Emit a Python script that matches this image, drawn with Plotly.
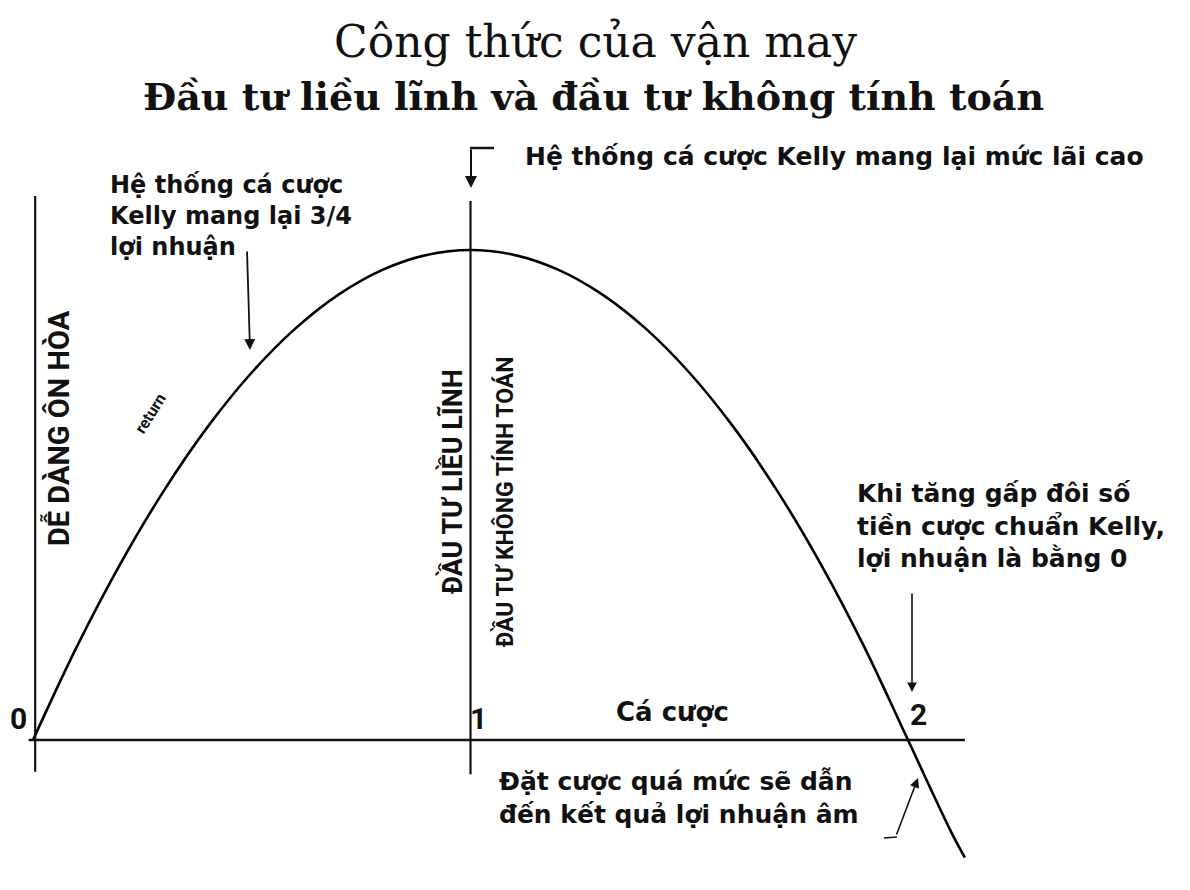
import plotly.graph_objects as go

# Kelly curve: bet size (multiples of the Kelly bet) vs. growth of capital
bet_size = [0.0, 0.1, 0.2, 0.3, 0.4, 0.5, 0.6, 0.7, 0.8, 0.9, 1.0,
            1.1, 1.2, 1.3, 1.4, 1.5, 1.6, 1.7, 1.8, 1.9, 2.0, 2.1, 2.13]
growth = [0.0, 0.19, 0.36, 0.51, 0.64, 0.75, 0.84, 0.91, 0.96, 0.99, 1.0,
          0.99, 0.96, 0.91, 0.84, 0.75, 0.64, 0.51, 0.36, 0.19, 0.0, -0.19, -0.24]

tick_values = [0, 1, 2]
tick_labels = ["0", "1", "2"]

# page has an 8px body margin, so the figure is drawn 8px in from the corner
OFF = 8
W, H = 1174, 874
X0, XS = 33 - OFF, 437.5      # figure pixel of bet 0, pixels per unit
Y0, YS = 740 - OFF, 490       # figure pixel of growth 0, pixels per unit


def px(x):
    return (x - OFF) / W


def py(y):
    return 1 - (y - OFF) / H


fig = go.Figure()
fig.add_trace(go.Scatter(
    x=bet_size, y=growth, mode="lines",
    line=dict(color="black", width=2.6, shape="spline"),
    hoverinfo="skip", showlegend=False,
))

ink = "#111111"
sans = "DejaVu Sans"
cond = "Roboto"


def note(x, y, text, size, xanchor="center", angle=0, family=sans, align="center"):
    return dict(x=px(x), y=py(y), xref="paper", yref="paper", showarrow=False,
                xanchor=xanchor, yanchor="middle", align=align, textangle=angle,
                text=text, font=dict(family=family, size=size, color=ink))


def arrow(x, y, ax, ay, width=1.8):
    return dict(x=px(x), y=py(y), xref="paper", yref="paper", ax=ax, ay=ay,
                text="", showarrow=True, arrowhead=2, arrowsize=1.2,
                arrowwidth=width, arrowcolor=ink)


shapes = [
    # horizontal axis
    dict(type="line", xref="x", yref="y", x0=-0.01, x1=2.13, y0=0, y1=0,
         line=dict(color=ink, width=2.6)),
    # left vertical axis
    dict(type="line", xref="x", yref="y", x0=0.005, x1=0.005, y0=-0.065, y1=1.11,
         line=dict(color=ink, width=2.2)),
    # Kelly line at 1
    dict(type="line", xref="x", yref="y", x0=1, x1=1, y0=-0.07, y1=1.1,
         line=dict(color=ink, width=2.2)),
    # top bracket stub
    dict(type="line", xref="paper", yref="paper", x0=px(470), x1=px(494),
         y0=py(148), y1=py(148), line=dict(color=ink, width=2.5)),
    # hook of the overbetting arrow
    dict(type="line", xref="paper", yref="paper", x0=px(884), x1=px(897),
         y0=py(838), y1=py(837), line=dict(color=ink, width=1.6)),
]

ann = [
    note(595, 42, "Công thức của vận may", 44, family="DejaVu Serif"),
    note(593, 97, "<b>Đầu tư liều lĩnh và đầu tư không tính toán</b>", 38,
         family="DejaVu Serif"),

    note(523, 156, "<b>Hệ thống cá cược Kelly mang lại mức lãi cao</b>", 25, "left"),
    arrow(471, 188, 0, -40, 2),

    note(108, 216, "<b>Hệ thống cá cược<br>Kelly mang lại 3/4<br>lợi nhuận</b>", 24,
         "left", align="left"),
    arrow(250, 350, -3, -100),

    note(57, 428, "<b>DỄ DÀNG ÔN HÒA</b>", 29, angle=-90, family=cond),
    note(452, 482, "<b>ĐẦU TƯ LIỀU LĨNH</b>", 27, angle=-90, family=cond),
    note(505, 502, "<b>ĐẦU TƯ KHÔNG TÍNH TOÁN</b>", 23, angle=-90, family=cond),
    note(150, 413, "<b>return</b>", 16, angle=-58, family=cond),

    note(672, 712, "<b>Cá cược</b>", 26),

    note(855, 526, "<b>Khi tăng gấp đôi số<br>tiền cược chuẩn Kelly,<br>lợi nhuận là bằng 0</b>",
         25, "left", align="left"),
    arrow(912, 692, 0, -100, 1.6),

    note(497, 798, "<b>Đặt cược quá mức sẽ dẫn<br>đến kết quả lợi nhuận âm</b>", 25,
         "left", align="left"),
    arrow(918, 778, -22, 58, 1.6),
]

# tick numbers along the bet axis
tick_pos = [(18, 718), (478, 718), (918, 714)]
for lab, (tx, ty) in zip(tick_labels, tick_pos):
    ann.append(note(tx, ty, "<b>" + lab + "</b>", 30, family=cond))

fig.update_layout(
    width=W, height=H,
    margin=dict(l=0, r=0, t=0, b=0),
    paper_bgcolor="white", plot_bgcolor="white",
    xaxis=dict(range=[-X0 / XS, (W - X0) / XS], visible=False, fixedrange=True),
    yaxis=dict(range=[(Y0 - H) / YS, Y0 / YS], visible=False, fixedrange=True),
    shapes=shapes, annotations=ann, showlegend=False,
)

fig.write_html("out.html")
